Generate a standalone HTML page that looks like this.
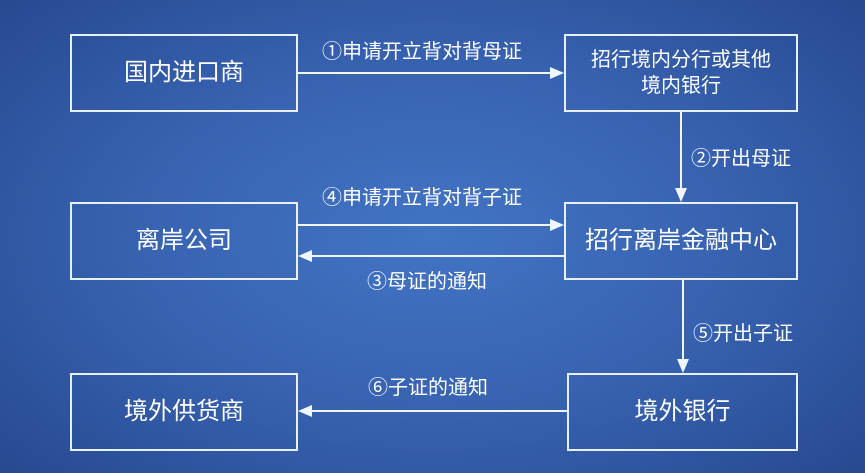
<!DOCTYPE html>
<html><head><meta charset="utf-8"><style>
body{margin:0;width:865px;height:473px;overflow:hidden;background:radial-gradient(ellipse 70% 75% at 50% 50%,#4274c4 0%,#3762b0 50%,#26488f 100%);font-family:"Liberation Sans","Noto Sans CJK SC",sans-serif;color:#fff;position:relative}
.b{position:absolute;border:2px solid #e6f0ff;box-sizing:border-box;display:flex;align-items:center;justify-content:center;text-align:center;font-size:24px;line-height:1.3}
.s{font-size:20px}
.l{position:absolute;font-size:20px;white-space:nowrap;line-height:24px}
svg{position:absolute;left:0;top:0}
</style></head><body>
<div class="b" style="left:70px;top:34px;width:228px;height:78px">国内进口商</div>
<div class="b s" style="left:564px;top:34px;width:234px;height:78px">招行境内分行或其他<br>境内银行</div>
<div class="b" style="left:70px;top:202px;width:228px;height:78px">离岸公司</div>
<div class="b" style="left:564px;top:202px;width:234px;height:78px">招行离岸金融中心</div>
<div class="b" style="left:70px;top:373px;width:228px;height:78px">境外供货商</div>
<div class="b" style="left:567px;top:373px;width:231px;height:78px">境外银行</div>
<svg width="865" height="473" stroke="#f0f6ff" stroke-width="2" fill="#f0f6ff">
<line x1="298" y1="73" x2="552" y2="73"/><polygon points="564,73 550,67 550,79" stroke="none"/>
<line x1="681" y1="112" x2="681" y2="190"/><polygon points="681,202 675,188 687,188" stroke="none"/>
<line x1="298" y1="225" x2="552" y2="225"/><polygon points="564,225 550,219 550,231" stroke="none"/>
<line x1="310" y1="256" x2="564" y2="256"/><polygon points="298,256 312,250 312,262" stroke="none"/>
<line x1="683" y1="280" x2="683" y2="361"/><polygon points="683,373 677,359 689,359" stroke="none"/>
<line x1="310" y1="411" x2="567" y2="411"/><polygon points="298,411 312,405 312,417" stroke="none"/>
</svg>
<div class="l" style="left:322px;top:40px">①申请开立背对背母证</div>
<div class="l" style="left:691px;top:147px">②开出母证</div>
<div class="l" style="left:322px;top:186px">④申请开立背对背子证</div>
<div class="l" style="left:367px;top:270px">③母证的通知</div>
<div class="l" style="left:693px;top:322px">⑤开出子证</div>
<div class="l" style="left:368px;top:376px">⑥子证的通知</div>
</body></html>
